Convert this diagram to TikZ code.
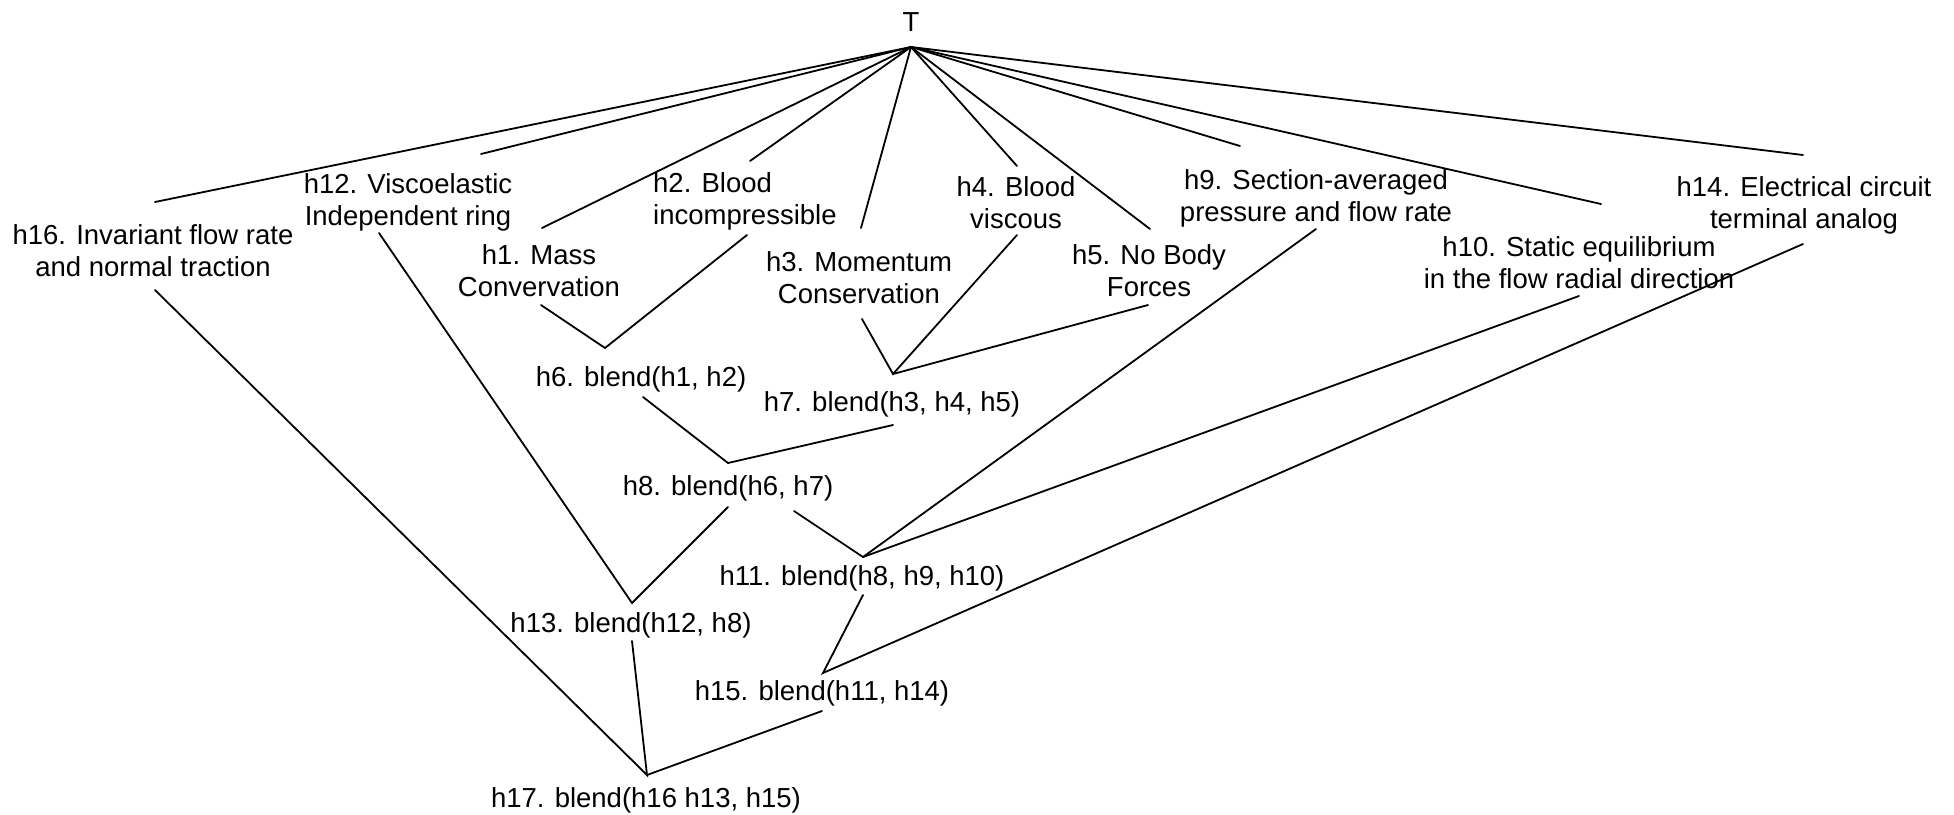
\documentclass[tikz,border=0pt]{standalone}
\usepackage{fontspec}
\setmainfont{Liberation Sans}
\begin{document}
\begin{tikzpicture}[x=1pt,y=-1pt,
  lbl/.style={font=\fontsize{27.5}{32}\selectfont, inner sep=0pt, align=center},
  link/.style={line width=1.8pt, line cap=round}]
\useasboundingbox (0,0) rectangle (1954,814);
% hypotheses and blends
\node[lbl] (T)   at (911,22)  {T};
\node[lbl] (h16) at (153,251) {h16. Invariant flow rate\\and normal traction};
\node[lbl] (h12) at (408,202) {h12. Viscoelastic\\Independent ring};
\node[lbl] (h1)  at (539,271) {h1. Mass\\Convervation};
\node[lbl, align=left, anchor=west] (h2) at (653,201) {h2. Blood\\incompressible};
\node[lbl] (h3)  at (859,278) {h3. Momentum\\Conservation};
\node[lbl] (h4)  at (1016,203) {h4. Blood\\viscous};
\node[lbl] (h5)  at (1149,271) {h5. No Body\\Forces};
\node[lbl] (h9)  at (1316,198) {h9. Section-averaged\\pressure and flow rate};
\node[lbl] (h10) at (1579,263) {h10. Static equilibrium\\in the flow radial direction};
\node[lbl] (h14) at (1804,205) {h14. Electrical circuit\\terminal analog};
\node[lbl] (h6)  at (641,379) {h6. blend(h1, h2)};
\node[lbl] (h7)  at (892,404) {h7. blend(h3, h4, h5)};
\node[lbl] (h8)  at (728,488) {h8. blend(h6, h7)};
\node[lbl] (h11) at (862,578) {h11. blend(h8, h9, h10)};
\node[lbl] (h13) at (631,625) {h13. blend(h12, h8)};
\node[lbl] (h15) at (822,693) {h15. blend(h11, h14)};
\node[lbl] (h17) at (646,800) {h17. blend(h16 h13, h15)};
% connector end points
\coordinate (T-b)   at (911,47);
\coordinate (h16-t) at (155,202);  \coordinate (h16-b) at (155,290);
\coordinate (h12-t) at (481,154);  \coordinate (h12-b) at (379,233);
\coordinate (h1-t)  at (542,228);  \coordinate (h1-b)  at (541,305);
\coordinate (h2-t)  at (750,161);  \coordinate (h2-b)  at (747,235);
\coordinate (h3-t)  at (861,228);  \coordinate (h3-b)  at (862,319);
\coordinate (h4-t)  at (1017,166); \coordinate (h4-b)  at (1017,235);
\coordinate (h5-t)  at (1150,229); \coordinate (h5-b)  at (1148,305);
\coordinate (h9-t)  at (1240,146); \coordinate (h9-b)  at (1316,229);
\coordinate (h10-t) at (1601,204); \coordinate (h10-b) at (1579,296);
\coordinate (h14-t) at (1803,155); \coordinate (h14-b) at (1803,244);
\coordinate (h6-t)  at (605,348);  \coordinate (h6-b)  at (643,397);
\coordinate (h7-t)  at (893,374);  \coordinate (h7-b)  at (893,425);
\coordinate (h8-t)  at (728,463);  \coordinate (h8-bl) at (728,507);
\coordinate (h8-br) at (794,511);
\coordinate (h11-t) at (863,557);  \coordinate (h11-b) at (863,595);
\coordinate (h13-t) at (632,603);  \coordinate (h13-b) at (632,641);
\coordinate (h15-t) at (823,673);  \coordinate (h15-b) at (822,711);
\coordinate (h17-t) at (647,775);
% links from the theory T
\foreach \n in {h16,h12,h1,h2,h3,h4,h5,h9,h10,h14}
  \draw[link] (T-b) -- (\n-t);
% blends
\draw[link] (h1-b) -- (h6-t) -- (h2-b);
\draw[link] (h3-b) -- (h7-t) -- (h4-b);
\draw[link] (h7-t) -- (h5-b);
\draw[link] (h6-b) -- (h8-t) -- (h7-b);
\draw[link] (h12-b) -- (h13-t) -- (h8-bl);
\draw[link] (h8-br) -- (h11-t) -- (h9-b);
\draw[link] (h11-t) -- (h10-b);
\draw[link] (h11-b) -- (h15-t) -- (h14-b);
\draw[link] (h16-b) -- (h17-t) -- (h13-b);
\draw[link] (h17-t) -- (h15-b);
\end{tikzpicture}
\end{document}
